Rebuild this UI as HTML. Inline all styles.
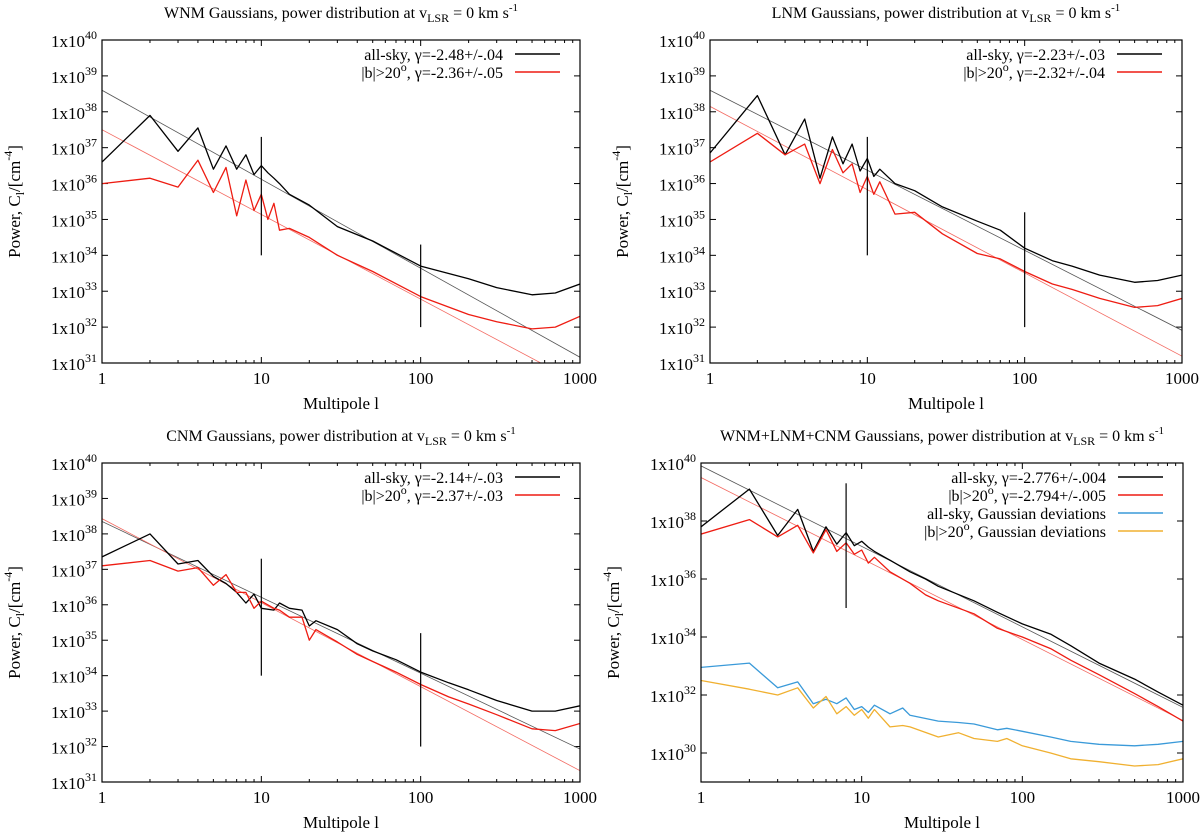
<!DOCTYPE html>
<html><head><meta charset="utf-8"><style>
html,body{margin:0;padding:0;background:#fff;}
svg{display:block;font-family:"Liberation Serif",serif;}
</style></head><body>
<svg id="fig" width="1200" height="837" viewBox="0 0 1200 837" xmlns="http://www.w3.org/2000/svg"></svg>
<script>
// ---- data (log10 of power) ----
const lWNM = [1,2,3,4,5,6,7,8,9,10,11,12,13,15,20,30,50,100,200,300,500,700,1000];
const wnmAll = [36.6,37.9,36.9,37.55,36.4,37.05,36.4,36.8,36.25,36.5,36.3,36.15,36.0,35.7,35.4,34.8,34.4,33.7,33.35,33.1,32.9,32.95,33.2];
const wnmHigh = [36.0,36.15,35.9,36.65,35.75,36.45,35.1,36.1,35.25,35.7,35.0,35.45,34.7,34.75,34.5,34.0,33.55,32.85,32.35,32.15,31.95,32.0,32.3];
const wnmFitAll = [38.6,-2.48];
const wnmFitHigh = [37.5,-2.36];
const wnmBars = [[10,34.0,37.3],[100,32.0,34.3]];

const lLNM = [1,2,3,4,5,6,7,8,9,10,11,12,15,20,30,50,70,100,150,200,300,500,700,1000];
const lnmAll = [36.85,38.45,36.8,37.8,36.15,37.3,36.55,37.1,36.35,36.7,36.2,36.4,36.0,35.8,35.35,34.95,34.7,34.2,33.85,33.7,33.45,33.25,33.3,33.45];
const lnmHigh = [36.6,37.4,36.8,37.1,36.0,36.95,36.3,36.55,35.75,36.2,35.7,36.05,35.15,35.2,34.6,34.05,33.9,33.55,33.2,33.05,32.8,32.55,32.6,32.8];
const lnmFitAll = [38.6,-2.23];
const lnmFitHigh = [38.15,-2.32];
const lnmBars = [[10,34.0,37.3],[100,32.0,35.2]];

const lCNM = [1,2,3,4,5,6,7,8,9,10,12,13,15,18,20,22,30,40,50,70,100,150,200,300,500,700,1000];
const cnmAll = [37.35,38.0,37.15,37.25,36.8,36.6,36.35,36.05,36.3,35.9,35.85,36.05,35.9,35.85,35.4,35.55,35.3,34.9,34.7,34.45,34.1,33.8,33.6,33.3,33.0,33.0,33.15];
const cnmHigh = [37.1,37.25,36.95,37.05,36.55,36.85,36.35,36.35,35.9,36.1,35.9,35.85,35.65,35.65,35.0,35.3,34.95,34.6,34.4,34.1,33.75,33.4,33.2,32.9,32.5,32.45,32.65];
const cnmFitAll = [38.35,-2.14];
const cnmFitHigh = [38.43,-2.37];
const cnmBars = [[10,34.0,37.3],[100,32.0,35.2]];

const lTOT = [1,2,3,4,5,6,7,8,9,10,11,12,15,20,25,30,50,70,100,150,200,300,500,700,1000];
const totAll = [37.8,39.1,37.5,38.4,36.95,37.8,37.2,37.6,37.15,37.3,37.1,36.95,36.65,36.25,36.0,35.75,35.25,34.85,34.45,34.1,33.7,33.1,32.55,32.1,31.65];
const totHigh = [37.55,38.05,37.45,37.85,36.9,37.7,36.95,37.25,36.85,37.0,36.55,36.75,36.25,35.85,35.45,35.25,34.8,34.3,34.0,33.6,33.2,32.7,32.05,31.6,31.1];
const lDEV = [1,2,3,4,5,6,7,8,9,10,11,12,15,18,20,30,40,50,70,80,100,150,200,300,500,700,1000];
const devAll = [32.95,33.1,32.25,32.45,31.7,31.85,31.7,31.9,31.5,31.6,31.4,31.65,31.35,31.55,31.3,31.1,31.05,31.0,30.8,30.85,30.75,30.55,30.4,30.3,30.25,30.3,30.4];
const devHigh = [32.5,32.2,32.0,32.25,31.55,31.95,31.35,31.6,31.3,31.5,31.2,31.5,30.9,30.95,30.9,30.55,30.7,30.5,30.4,30.5,30.25,30.0,29.8,29.7,29.55,29.6,29.8];
const totFitAll = [39.9,-2.776];
const totFitHigh = [39.5,-2.794];
const totBars = [[8,35.0,39.3]];

const topTicks = [31,32,33,34,35,36,37,38,39,40];
const botTicks = [30,32,34,36,38,40];
const xTicks = [1,10,100,1000];

// ---- drawing ----
const NS = "http://www.w3.org/2000/svg";
const svg = document.getElementById('fig');
function mk(tag, attrs, parent){ const e=document.createElementNS(NS,tag); for(const k in attrs) e.setAttribute(k,attrs[k]); (parent||svg).appendChild(e); return e; }

function panel(p){
  const g = mk('g',{});
  
  
  const X = l => p.x0 + Math.log10(l)/3*(p.x1-p.x0);
  const Y = v => p.y1 - (v-p.ymin)/(p.ymax-p.ymin)*(p.y1-p.y0);
  const t = mk('text',{x:(p.x0+p.x1)/2, y:p.ty, 'font-size':16, 'text-anchor':'middle'}, g);
  
  
  t.innerHTML = p.title + ', power distribution at v<tspan font-size="12" dy="4">LSR</tspan><tspan dy="-4"> = 0 km s</tspan><tspan font-size="11" dy="-7">-1</tspan>';
  const tk = mk('g',{stroke:'#000','stroke-width':1}, g);
  
  
  for(let d=0; d<3; d++) for(let m=2;m<10;m++){
    const x = X(Math.pow(10,d)*m);
    mk('line',{x1:x,x2:x,y1:p.y1,y2:p.y1-3},tk); mk('line',{x1:x,x2:x,y1:p.y0,y2:p.y0+3},tk);
  }
  xTicks.forEach(l=>{
    const x=X(l);
    mk('line',{x1:x,x2:x,y1:p.y1,y2:p.y1-6},tk); mk('line',{x1:x,x2:x,y1:p.y0,y2:p.y0+6},tk);
    const lab = mk('text',{x:x,y:p.y1+21,'font-size':17,'text-anchor':'middle',stroke:'none'},g);
    
    
    lab.textContent = l;
  });
  p.yticks.forEach(v=>{
    const y=Y(v);
    mk('line',{x1:p.x0,x2:p.x0+6,y1:y,y2:y},tk); mk('line',{x1:p.x1,x2:p.x1-6,y1:y,y2:y},tk);
    const lab = mk('text',{x:p.x0-5,y:y+7,'font-size':17,'text-anchor':'end'},g);
    
    
    lab.innerHTML = '1x10<tspan font-size="12" dy="-8">'+v+'</tspan>';
  });
  const xl = mk('text',{x:(p.x0+p.x1)/2,y:p.y1+46,'font-size':17,'text-anchor':'middle'},g);
  
  
  xl.textContent='Multipole l';
  const yl = mk('text',{x:0,y:0,'font-size':17,'text-anchor':'middle',transform:'translate('+(p.x0-82)+','+((p.y0+p.y1)/2)+') rotate(-90)'},g);
  
  
  yl.innerHTML='Power,  C<tspan font-size="12" dy="4">l</tspan><tspan dy="-4">/[cm</tspan><tspan font-size="12" dy="-8">-4</tspan><tspan dy="8">]</tspan>';
  const cid = 'clip-'+p.name;
  const cp = mk('clipPath',{id:cid},g); mk('rect',{x:p.x0,y:p.y0,width:p.x1-p.x0,height:p.y1-p.y0},cp);
  const plot = mk('g',{'clip-path':'url(#'+cid+')'},g);
  p.fits.forEach(f=>{
    const ln = mk('line',{x1:X(1),y1:Y(f.a[0]),x2:X(1000),y2:Y(f.a[0]+3*f.a[1]),stroke:f.c,'stroke-width':0.8},plot);
    
    
  });
  p.series.forEach(s=>{
    const d = s.l.map((l,i)=>(i?'L':'M')+X(l).toFixed(1)+','+Y(s.v[i]).toFixed(1)).join('');
    const pa = mk('path',{d:d,fill:'none',stroke:s.c,'stroke-width':1.3,'stroke-linejoin':'round'},plot);
    
    
  });
  p.bars.forEach(b=>{
    const bl = mk('line',{x1:X(b[0]),x2:X(b[0]),y1:Y(b[1]),y2:Y(b[2]),stroke:'#000','stroke-width':1.2},plot);
    
    
  });
  const fr = mk('rect',{x:p.x0,y:p.y0,width:p.x1-p.x0,height:p.y1-p.y0,fill:'none',stroke:'#000','stroke-width':1.2},g);
  
  
  p.legend.forEach((e,i)=>{
    const y = p.y0+14+i*18;
    const lt = mk('text',{x:p.x1-77,y:y+6,'font-size':16,'text-anchor':'end'},g);
    
    
    lt.innerHTML = e.t;
    const ll = mk('line',{x1:p.x1-65,x2:p.x1-20,y1:y,y2:y,stroke:e.c,'stroke-width':1.5},g);
    
    
  });
}
const BLK='#000', RED='#ee1c12', REDF='#f36a62', GRYF='#555', BLU='#3a9ad9', ORG='#f0b030';
const hiLab = g => '|b|&gt;20<tspan font-size="12" dy="-7">o</tspan><tspan dy="7">, γ=</tspan>'+g;
panel({name:'wnm-panel',title:'WNM Gaussians',x0:102,x1:580,y0:40,y1:363,ty:18,ymin:31,ymax:40,yticks:topTicks,
  fits:[{a:wnmFitAll,c:GRYF},{a:wnmFitHigh,c:REDF}],
  series:[{name:'wnm-all-sky',l:lWNM,v:wnmAll,c:BLK},{name:'wnm-high-lat',l:lWNM,v:wnmHigh,c:RED}],
  bars:wnmBars,legend:[{t:'all-sky, γ=-2.48+/-.04',c:BLK},{t:hiLab('-2.36+/-.05'),c:RED}]});
panel({name:'lnm-panel',title:'LNM Gaussians',x0:710,x1:1182,y0:40,y1:363,ty:18,ymin:31,ymax:40,yticks:topTicks,
  fits:[{a:lnmFitAll,c:GRYF},{a:lnmFitHigh,c:REDF}],
  series:[{name:'lnm-all-sky',l:lLNM,v:lnmAll,c:BLK},{name:'lnm-high-lat',l:lLNM,v:lnmHigh,c:RED}],
  bars:lnmBars,legend:[{t:'all-sky, γ=-2.23+/-.03',c:BLK},{t:hiLab('-2.32+/-.04'),c:RED}]});
panel({name:'cnm-panel',title:'CNM Gaussians',x0:102,x1:580,y0:463,y1:782,ty:441,ymin:31,ymax:40,yticks:topTicks,
  fits:[{a:cnmFitAll,c:GRYF},{a:cnmFitHigh,c:REDF}],
  series:[{name:'cnm-all-sky',l:lCNM,v:cnmAll,c:BLK},{name:'cnm-high-lat',l:lCNM,v:cnmHigh,c:RED}],
  bars:cnmBars,legend:[{t:'all-sky, γ=-2.14+/-.03',c:BLK},{t:hiLab('-2.37+/-.03'),c:RED}]});
panel({name:'total-panel',title:'WNM+LNM+CNM Gaussians',x0:701,x1:1183,y0:463,y1:782,ty:441,ymin:29,ymax:40,yticks:botTicks,
  fits:[{a:totFitAll,c:GRYF},{a:totFitHigh,c:REDF}],
  series:[{name:'total-all-sky',l:lTOT,v:totAll,c:BLK},{name:'total-high-lat',l:lTOT,v:totHigh,c:RED},
          {name:'deviation-all-sky',l:lDEV,v:devAll,c:BLU},{name:'deviation-high-lat',l:lDEV,v:devHigh,c:ORG}],
  bars:totBars,legend:[{t:'all-sky, γ=-2.776+/-.004',c:BLK},{t:hiLab('-2.794+/-.005'),c:RED},
    {t:'all-sky, Gaussian deviations',c:BLU},{t:'|b|&gt;20<tspan font-size="12" dy="-7">o</tspan><tspan dy="7">, Gaussian deviations</tspan>',c:ORG}]});
</script>
</body></html>
